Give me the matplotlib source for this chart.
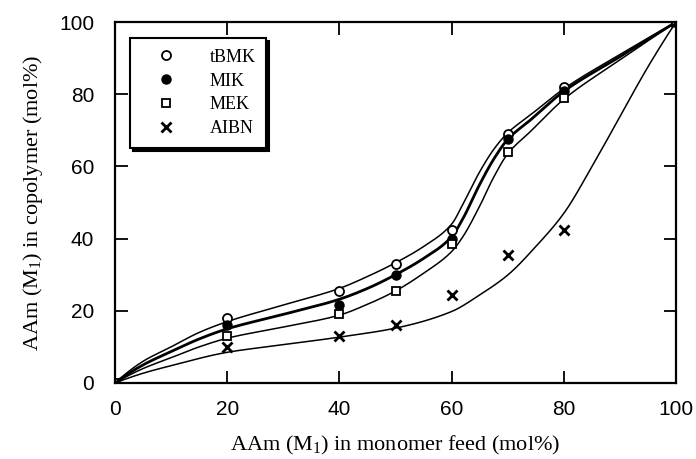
import numpy as np
import matplotlib
matplotlib.use('Agg')
import matplotlib.pyplot as plt

# measured data (mol% AAm)
feed = [0, 20, 40, 50, 60, 70, 80, 100]
tbmk = [0, 18, 25.5, 33, 42.5, 69, 82, 100]
mik = [0, 16, 21.5, 30, 40, 67.5, 81, 100]
mek = [0, 13, 19, 25.5, 38.5, 64, 79, 100]
aibn = [0, 10, 13, 16, 24.5, 35.5, 42.5, 100]

# points
cx = [0, 5, 10, 15, 20, 30, 40, 45, 50, 55, 60, 62, 65, 67.5, 70, 74, 80, 90, 100]
fit_tbmk = [0, 6, 10, 14, 17, 21.6, 26.2, 29.5, 33.3, 37.8, 44, 49.5, 58.5,
            64.7, 69.3, 74.2, 81.5, 91, 100]
fit_mik = [0, 5, 8.7, 12.2, 15, 19, 23.2, 26.2, 30, 34.5, 40.5, 45.5, 55,
           62, 67.5, 72.8, 80.8, 90.4, 100]
fit_mek = [0, 4, 7, 10, 12.4, 15.5, 18.8, 21.8, 25.5, 30.4, 36.4, 40.5, 49,
           57, 63.5, 69.6, 78.6, 89.5, 100]
cx_aibn = [0, 5, 10, 20, 30, 40, 50, 60, 65, 70, 75, 80, 85, 90, 95, 100]
fit_aibn = [0, 2.7, 4.8, 8.5, 10.6, 12.7, 15.2, 19.8, 24.4, 29.9, 37.8, 47,
            59.9, 73.8, 87.6, 100]


def pchip(x, y, n=600):
    """monotone cubic (Fritsch-Carlson) through the read curve points"""
    x = np.asarray(x, float)
    y = np.asarray(y, float)
    h = np.diff(x)
    d = np.diff(y) / h
    m = np.zeros_like(y)
    m[0] = ((2 * h[0] + h[1]) * d[0] - h[0] * d[1]) / (h[0] + h[1])
    m[-1] = ((2 * h[-1] + h[-2]) * d[-1] - h[-1] * d[-2]) / (h[-1] + h[-2])
    for i in range(1, len(x) - 1):
        if d[i - 1] * d[i] > 0:
            w1 = 2 * h[i] + h[i - 1]
            w2 = h[i] + 2 * h[i - 1]
            m[i] = (w1 + w2) / (w1 / d[i - 1] + w2 / d[i])
    xs = np.linspace(x[0], x[-1], n)
    k = np.clip(np.searchsorted(x, xs) - 1, 0, len(x) - 2)
    t = (xs - x[k]) / h[k]
    h00 = 2 * t**3 - 3 * t**2 + 1
    h10 = t**3 - 2 * t**2 + t
    h01 = -2 * t**3 + 3 * t**2
    h11 = t**3 - t**2
    ys = h00 * y[k] + h10 * h[k] * m[k] + h01 * y[k + 1] + h11 * h[k] * m[k + 1]
    return xs, ys


serif = 'Liberation Serif'
sans = 'Liberation Sans'
plt.rcParams['mathtext.fontset'] = 'custom'
plt.rcParams['mathtext.rm'] = serif
plt.rcParams['mathtext.it'] = serif

fig = plt.figure(figsize=(6.96, 4.59), dpi=100)
ax = fig.add_axes([0.1652, 0.1656, 0.8061, 0.7864])

for x, y, lw in [(cx, fit_tbmk, 1.1), (cx, fit_mik, 2.0),
                 (cx, fit_mek, 1.1), (cx_aibn, fit_aibn, 1.1)]:
    xs, ys = pchip(x, y)
    ax.plot(xs, ys, 'k-', lw=lw)

ms = 6.5
ax.plot(feed, tbmk, 'o', mfc='white', mec='k', mew=1.3, ms=ms, label='tBMK')
ax.plot(feed, mik, 'o', mfc='k', mec='k', ms=ms, label='MIK')
ax.plot(feed, mek, 's', mfc='white', mec='k', mew=1.3, ms=ms - 0.5, label='MEK')
ax.plot(feed, aibn, 'x', color='k', mew=2, ms=ms + 1, label='AIBN')

ax.set_xlim(0, 100)
ax.set_ylim(0, 100)
ax.set_xticks(range(0, 101, 20))
ax.set_yticks(range(0, 101, 20))
ax.tick_params(direction='in', top=True, right=True, length=9, width=1.3,
               labelsize=15)
ax.tick_params(axis='x', pad=12)
ax.tick_params(axis='y', pad=15)
for lab in ax.get_xticklabels() + ax.get_yticklabels():
    lab.set_fontfamily(sans)
for s in ax.spines.values():
    s.set_linewidth(1.6)

ax.set_xlabel(r'AAm (M$_1$) in monomer feed (mol%)', fontfamily=serif,
              fontsize=16, labelpad=11)
ax.set_ylabel(r'AAm (M$_1$) in copolymer (mol%)', fontfamily=serif,
              fontsize=16, labelpad=10)

leg = ax.legend(loc='upper left', bbox_to_anchor=(0.027, 0.956),
                borderaxespad=0, frameon=True, fancybox=False,
                shadow={'color': 'k', 'alpha': 1},
                prop={'family': serif, 'size': 13}, handletextpad=1.0,
                borderpad=0.6, labelspacing=0.38, handlelength=2.8)
leg.get_frame().set_edgecolor('k')
leg.get_frame().set_linewidth(1.5)
leg.get_frame().set_alpha(1)

fig.savefig('out.png', dpi=100)
